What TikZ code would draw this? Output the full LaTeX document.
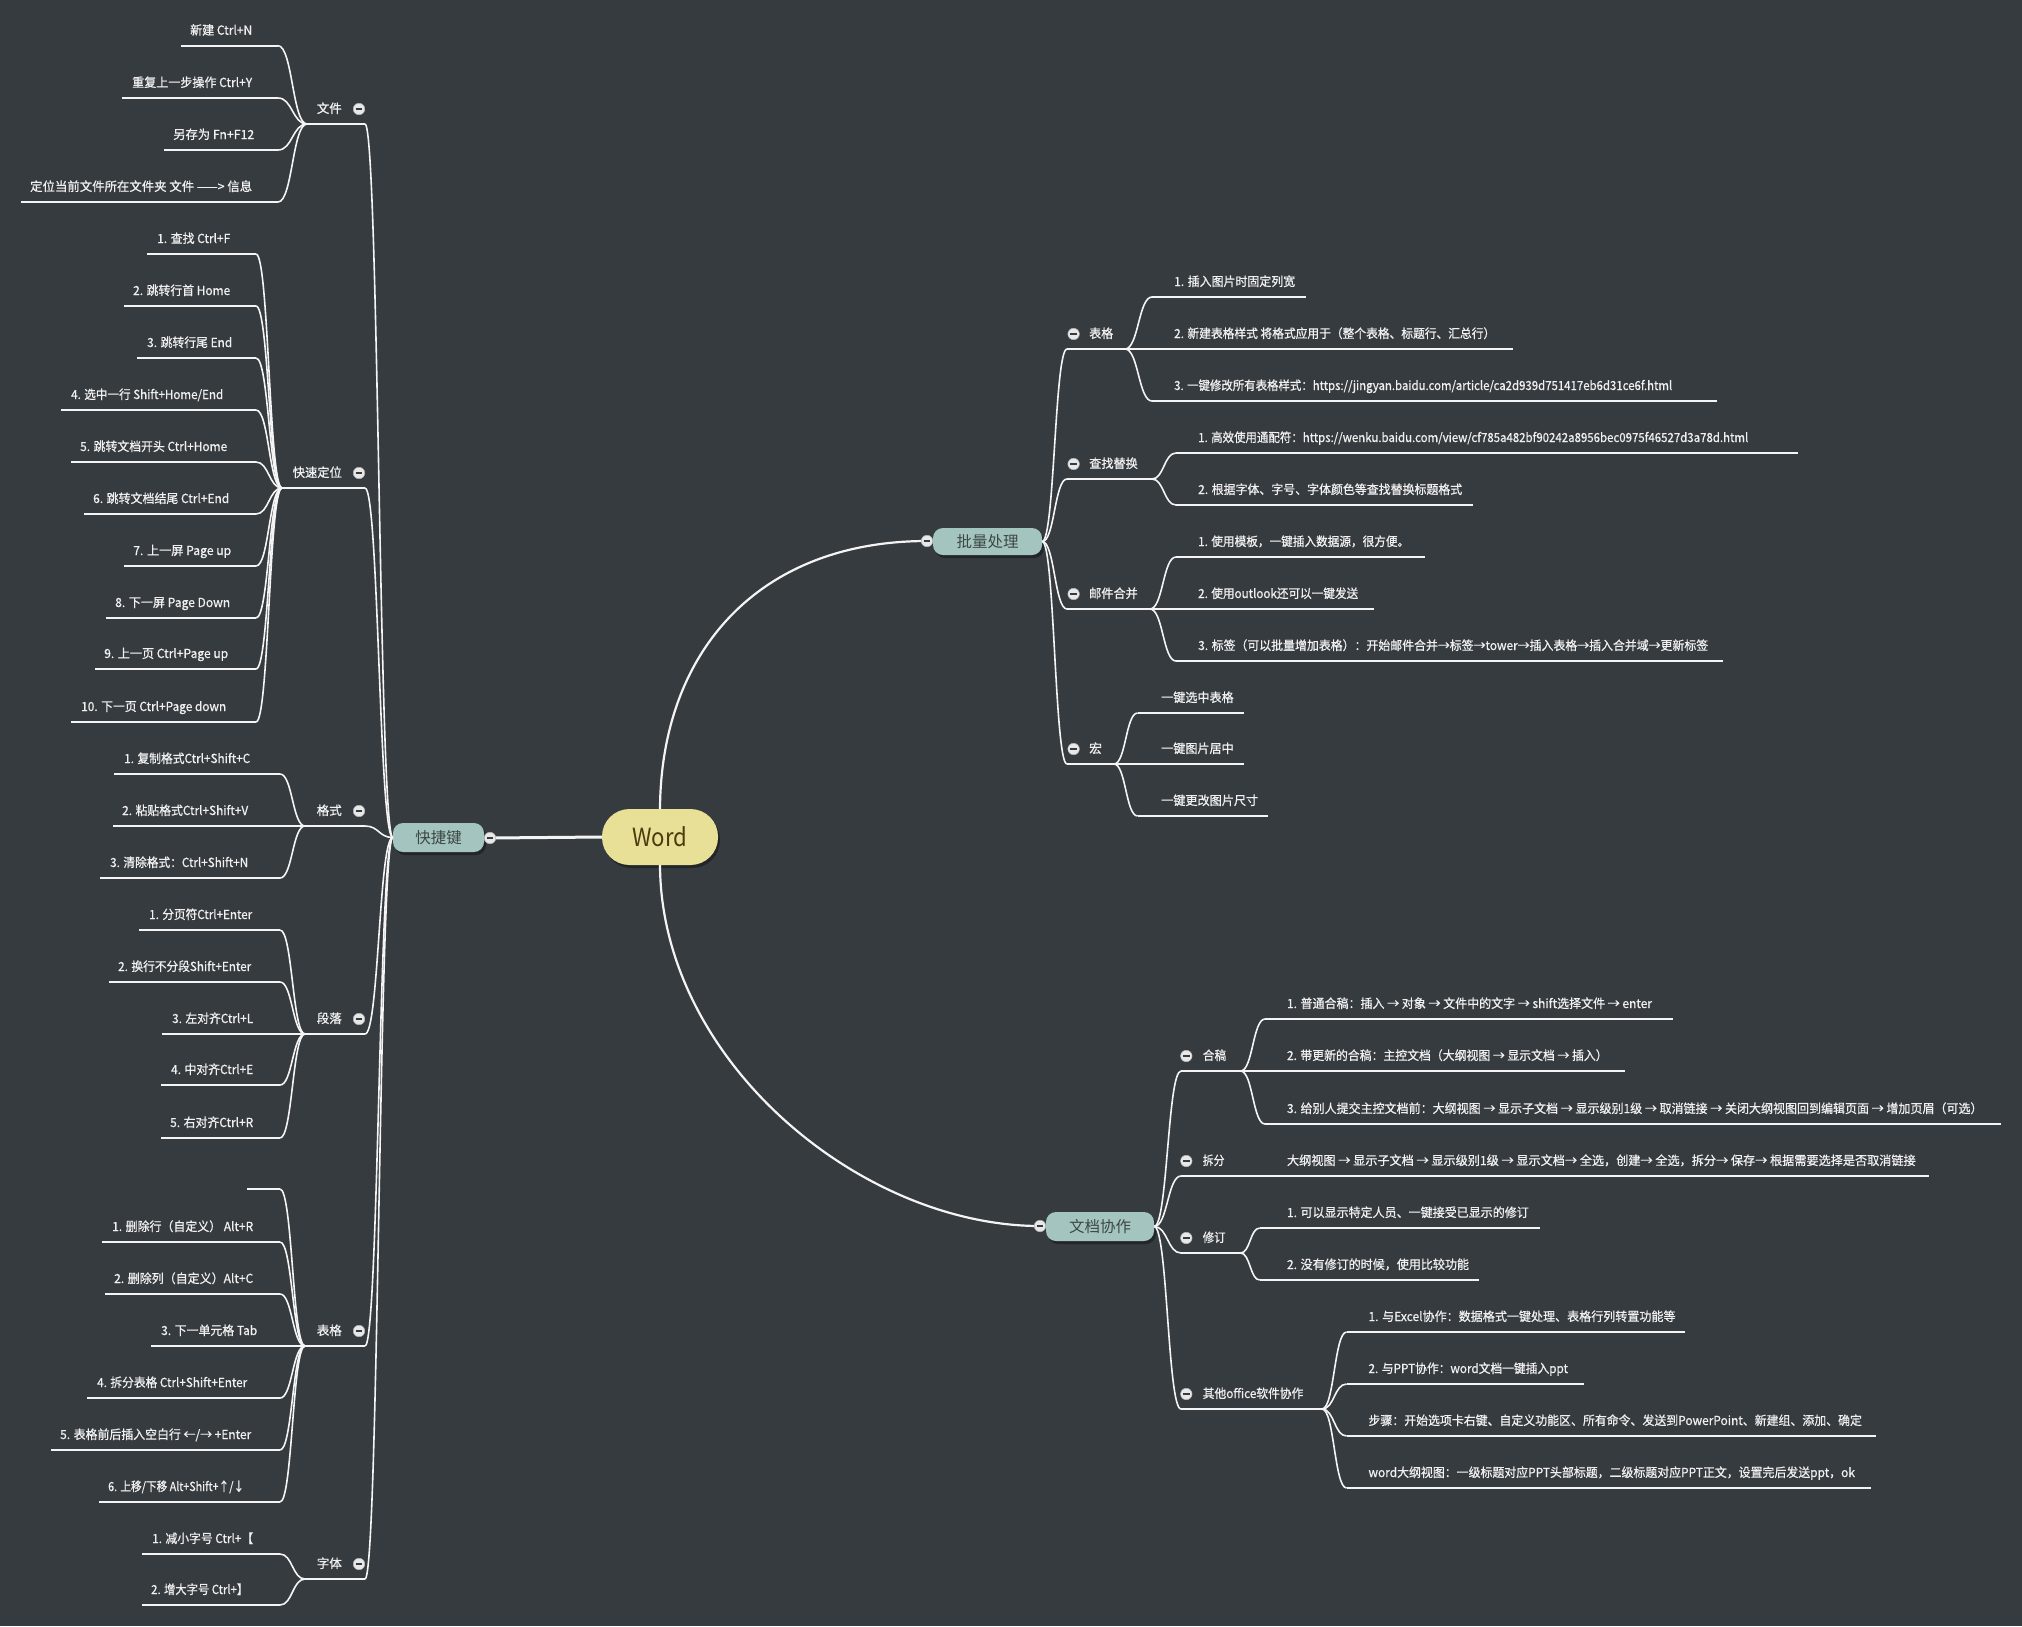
\documentclass[tikz,border=0pt]{standalone}
\usepackage{fontspec}
\setmainfont{Noto Sans CJK SC}
\newfontfamily\mmleaffont{Noto Sans CJK SC}[FakeBold=0.8]
\usepackage{graphicx}
\usetikzlibrary{calc,shadows}
\definecolor{bg}{HTML}{363B3F}
\definecolor{ln}{HTML}{F4F4F4}
\definecolor{tx}{HTML}{F0F0F0}
\definecolor{nodeteal}{HTML}{A4C5BF}
\definecolor{nodetealtx}{HTML}{3D4744}
\definecolor{wordfill}{HTML}{E9E097}
\definecolor{wordtx}{HTML}{4A3C0E}
\definecolor{knob}{HTML}{E8E8E8}
\tikzset{
  ul/.style={draw=ln, line width=1.7pt},
  conn/.style={draw=ln, line width=1.6pt},
  ltext/.style={text=tx, inner sep=0pt, font=\mmleaffont\fontsize{12.5}{14}\selectfont},
  rtext/.style={text=tx, inner sep=0pt, font=\mmleaffont\fontsize{12.5}{14}\selectfont},
  rgtext/.style={text=tx, inner sep=0pt, font=\mmleaffont\fontsize{12.5}{14}\selectfont},
  knobc/.style={circle, fill=knob, draw=knob!70!bg, line width=0.5pt, minimum size=11.5pt, inner sep=0pt,
    path picture={\draw[draw=bg, line width=1.8pt] ([xshift=2.4pt]path picture bounding box.west) -- ([xshift=-2.4pt]path picture bounding box.east);}},
  topic/.style={rounded corners=10pt, fill=nodeteal, text=nodetealtx, inner sep=0pt,
    font=\fontsize{15.5}{18}\selectfont,
    drop shadow={shadow xshift=2pt, shadow yshift=-3pt, fill=black, opacity=0.35}},
  wordn/.style={rounded corners=27.5pt, fill=wordfill, text=wordtx, inner sep=0pt,
    minimum width=116pt, minimum height=56pt, font=\fontsize{25}{28}\selectfont,
    drop shadow={shadow xshift=2pt, shadow yshift=-3pt, fill=black, opacity=0.35}},
}
\newcommand{\mmconn}[2]{\draw[conn] let \p1=(#1), \p2=(#2) in (#1) .. controls ({(\x1+\x2)/2},\y1) and ({(\x1+\x2)/2},\y2) .. (#2);}
% left leaf: name, uly, ulleft, ulright, textleft, width, text, conv
\newcommand{\mmlleaf}[8]{%
  \coordinate (#1a) at (#3,#2);
  \coordinate (#1b) at (#4,#2);
  \draw[ul] (#1a) -- (#1b);
  \mmconn{#1b}{#8}
  \node[ltext, anchor=base west] (#1) at (#5,#2-11) {\resizebox{#6pt}{\height}{#7}};
}
% right leaf: name, uly, ulleft, ulright, textleft, width, text, conv
\newcommand{\mmrleaf}[8]{%
  \coordinate (#1a) at (#3,#2);
  \coordinate (#1b) at (#4,#2);
  \draw[ul] (#1a) -- (#1b);
  \mmconn{#8}{#1a}
  \node[rtext, anchor=base west] (#1) at (#5,#2-11) {\resizebox{#6pt}{\height}{#7}};
}
% left group: name, uly, conv x, width, text
\newcommand{\mmlgroup}[5]{%
  \coordinate (#1c) at (#3,#2);
  \coordinate (#1e) at (365,#2);
  \draw[ul] (#1c) -- (#1e);
  \mmconn{kjj.west}{#1e}
  \node[ltext, anchor=base east] (#1) at (342,#2-11) {\resizebox{#4pt}{\height}{#5}};
  \node[knobc] (#1k) at (359,#2-15) {};
}
% right group: name, uly, ulleft, conv x, knob x, textleft, width, text, parent
\newcommand{\mmrgroup}[9]{%
  \coordinate (#1s) at (#3,#2);
  \coordinate (#1c) at (#4,#2);
  \draw[ul] (#1s) -- (#1c);
  \mmconn{#9.east}{#1s}
  \node[rgtext, anchor=base west] (#1) at (#6,#2-11) {\resizebox{#7pt}{\height}{#8}};
  \node[knobc] (#1k) at (#5,#2-15) {};
}
\begin{document}
\begin{tikzpicture}[x=1pt,y=-1pt]
\fill[bg] (0,0) rectangle (2022,1626);
\useasboundingbox (0,0) rectangle (2022,1626);

% central nodes
\node[wordn] (word) at (660,837) {\resizebox{55pt}{\height}{Word}};
\node[topic, minimum width=91pt, minimum height=29pt] (kjj) at (438.5,837.5) {快捷键};
\node[topic, minimum width=109pt, minimum height=27pt] (plcl) at (987.5,541.5) {批量处理};
\node[topic, minimum width=108pt, minimum height=29pt] (wdxz) at (1100,1226.5) {文档协作};
\coordinate (kjjk) at (490,838);
\coordinate (plclk) at (927,541);
\coordinate (wdxzk) at (1040,1226);
\draw[ln, line width=3pt] (word.west) -- (kjjk);
\draw[ln, line width=2.2pt] (word.north) .. controls (661,650) and (760,541) .. (plclk);
\draw[ln, line width=2.2pt] (word.south) .. controls (661,1060) and (860,1226) .. (wdxzk);
\node[knobc] (kjjknob) at (kjjk) {};
\node[knobc] (plclknob) at (plclk) {};
\node[knobc] (wdxzknob) at (wdxzk) {};

% ---------- left: 快捷键 ----------
\mmlgroup{wj}{124}{307}{25}{文件}
\mmlleaf{wj1}{45.7}{181}{278}{190}{62}{新建 Ctrl+N}{wjc}
\mmlleaf{wj2}{98}{122}{278}{132}{120}{重复上一步操作 Ctrl+Y}{wjc}
\mmlleaf{wj3}{150}{164}{278}{173}{81}{另存为 Fn+F12}{wjc}
\mmlleaf{wj4}{202}{21}{278}{30}{222}{定位当前文件所在文件夹 文件 ——> 信息}{wjc}

\mmlgroup{ks}{488}{282}{49}{快速定位}
\mmlleaf{ks1}{254}{147}{256}{157}{73}{1. 查找 Ctrl+F}{ksc}
\mmlleaf{ks2}{306}{124}{256}{133}{97}{2. 跳转行首 Home}{ksc}
\mmlleaf{ks3}{358}{137}{256}{147}{85}{3. 跳转行尾 End}{ksc}
\mmlleaf{ks4}{410}{61}{256}{71}{152}{4. 选中一行 Shift+Home/End}{ksc}
\mmlleaf{ks5}{462}{71}{256}{80}{147}{5. 跳转文档开头 Ctrl+Home}{ksc}
\mmlleaf{ks6}{514}{84}{256}{93}{136}{6. 跳转文档结尾 Ctrl+End}{ksc}
\mmlleaf{ks7}{566}{124}{256}{133}{98}{7. 上一屏 Page up}{ksc}
\mmlleaf{ks8}{618}{106}{256}{115}{115}{8. 下一屏 Page Down}{ksc}
\mmlleaf{ks9}{669}{95}{256}{104}{124}{9. 上一页 Ctrl+Page up}{ksc}
\mmlleaf{ks10}{722}{71}{256}{81}{145}{10. 下一页 Ctrl+Page down}{ksc}

\mmlgroup{gs}{826}{305}{25}{格式}
\mmlleaf{gs1}{774}{114}{280}{124}{126}{1. 复制格式Ctrl+Shift+C}{gsc}
\mmlleaf{gs2}{826}{113}{280}{122}{126}{2. 粘贴格式Ctrl+Shift+V}{gsc}
\mmlleaf{gs3}{878}{100}{280}{110}{138}{3. 清除格式：Ctrl+Shift+N}{gsc}

\mmlgroup{dl}{1034}{305}{25}{段落}
\mmlleaf{dl1}{930}{139}{280}{149}{103}{1. 分页符Ctrl+Enter}{dlc}
\mmlleaf{dl2}{982}{109}{280}{118}{133}{2. 换行不分段Shift+Enter}{dlc}
\mmlleaf{dl3}{1034}{162}{280}{172}{81}{3. 左对齐Ctrl+L}{dlc}
\mmlleaf{dl4}{1085}{161}{280}{171}{82}{4. 中对齐Ctrl+E}{dlc}
\mmlleaf{dl5}{1138}{161}{280}{170}{83}{5. 右对齐Ctrl+R}{dlc}

\mmlgroup{bg}{1346}{305}{25}{表格}
\coordinate (bg0a) at (247,1189);
\coordinate (bg0b) at (280,1189);
\draw[ul] (bg0a) -- (bg0b);
\mmconn{bg0b}{bgc}
\mmlleaf{bg1}{1242}{102}{280}{112}{141}{1. 删除行（自定义） Alt+R}{bgc}
\mmlleaf{bg2}{1294}{105}{280}{114}{139}{2. 删除列（自定义）Alt+C}{bgc}
\mmlleaf{bg3}{1346}{151}{280}{161}{96}{3. 下一单元格 Tab}{bgc}
\mmlleaf{bg4}{1398}{87}{280}{97}{150}{4. 拆分表格 Ctrl+Shift+Enter}{bgc}
\mmlleaf{bg5}{1450}{51}{280}{60}{191}{5. 表格前后插入空白行 ←/→ +Enter}{bgc}
\mmlleaf{bg6}{1502}{99}{280}{108}{136}{6. 上移/下移 Alt+Shift+↑/↓}{bgc}

\mmlgroup{zt}{1579}{305}{25}{字体}
\mmlleaf{zt1}{1554}{142}{280}{152}{101}{1. 减小字号 Ctrl+【}{ztc}
\mmlleaf{zt2}{1605}{142}{280}{151}{97}{2. 增大字号 Ctrl+】}{ztc}

% ---------- right: 批量处理 ----------
\mmrgroup{rb}{349}{1067}{1125}{1073.6}{1089}{24}{表格}{plcl}
\mmrleaf{rb1}{297}{1152}{1306}{1174}{121}{1. 插入图片时固定列宽}{rbc}
\mmrleaf{rb2}{349}{1125}{1513}{1174}{321}{2. 新建表格样式 将格式应用于（整个表格、标题行、汇总行）}{rbc}
\mmrleaf{rb3}{401}{1152}{1717}{1174}{498}{3. 一键修改所有表格样式：https://jingyan.baidu.com/article/ca2d939d751417eb6d31ce6f.html}{rbc}

\mmrgroup{cz}{479}{1067}{1152}{1073.6}{1089}{48.6}{查找替换}{plcl}
\mmrleaf{cz1}{453}{1176}{1798}{1198}{550}{1. 高效使用通配符：https://wenku.baidu.com/view/cf785a482bf90242a8956bec0975f46527d3a78d.html}{czc}
\mmrleaf{cz2}{505}{1176}{1473}{1198}{264}{2. 根据字体、字号、字体颜色等查找替换标题格式}{czc}

\mmrgroup{yj}{609}{1067}{1150}{1073.6}{1089}{48.6}{邮件合并}{plcl}
\mmrleaf{yj1}{557}{1176}{1424.5}{1198}{211}{1. 使用模板，一键插入数据源，很方便。}{yjc}
\mmrleaf{yj2}{609}{1150}{1374}{1198}{160}{2. 使用outlook还可以一键发送}{yjc}
\mmrleaf{yj3}{661}{1176}{1722.6}{1198}{510}{3. 标签（可以批量增加表格）：开始邮件合并→标签→tower→插入表格→插入合并域→更新标签}{yjc}

\mmrgroup{hg}{764}{1067}{1114}{1073.6}{1089}{12.7}{宏}{plcl}
\mmrleaf{hg1}{713}{1137.6}{1244}{1161}{72.5}{一键选中表格}{hgc}
\mmrleaf{hg2}{764}{1114}{1244}{1161}{72.5}{一键图片居中}{hgc}
\mmrleaf{hg3}{816}{1137.6}{1268}{1161}{97}{一键更改图片尺寸}{hgc}

% ---------- right: 文档协作 ----------
\mmrgroup{hgao}{1071}{1181}{1240.6}{1186.3}{1202.6}{23.4}{合稿}{wdxz}
\mmrleaf{hgao1}{1019}{1265}{1672.6}{1286.8}{365}{1. 普通合稿：插入 → 对象 → 文件中的文字 → shift选择文件 → enter}{hgaoc}
\mmrleaf{hgao2}{1071}{1240.6}{1625.3}{1286.8}{320.6}{2. 带更新的合稿：主控文档（大纲视图 → 显示文档 → 插入）}{hgaoc}
\mmrleaf{hgao3}{1124}{1265}{2001.3}{1286.8}{695.5}{3. 给别人提交主控文档前：大纲视图 → 显示子文档 → 显示级别1级 → 取消链接 → 关闭大纲视图回到编辑页面 → 增加页眉（可选）}{hgaoc}

\mmrgroup{cf}{1176}{1181}{1240.6}{1186.3}{1202.6}{21.7}{拆分}{wdxz}
\mmrleaf{cf1}{1176}{1240.6}{1929}{1286.8}{628.7}{大纲视图 → 显示子文档 → 显示级别1级 → 显示文档→ 全选，创建→ 全选，拆分→ 保存→ 根据需要选择是否取消链接}{cfc}

\mmrgroup{xd}{1253}{1181}{1240.6}{1186.3}{1202.6}{22.8}{修订}{wdxz}
\mmrleaf{xd1}{1228}{1259.7}{1539.5}{1286.8}{241.8}{1. 可以显示特定人员、一键接受已显示的修订}{xdc}
\mmrleaf{xd2}{1280}{1259.7}{1478.6}{1286.8}{182}{2. 没有修订的时候，使用比较功能}{xdc}

\mmrgroup{qt}{1409}{1181}{1322}{1186.3}{1202.6}{100.5}{其他office软件协作}{wdxz}
\mmrleaf{qt1}{1332}{1346.6}{1685}{1368.3}{307}{1. 与Excel协作：数据格式一键处理、表格行列转置功能等}{qtc}
\mmrleaf{qt2}{1384}{1346.6}{1584}{1368.3}{199.5}{2. 与PPT协作：word文档一键插入ppt}{qtc}
\mmrleaf{qt3}{1436}{1346.6}{1876.4}{1368.3}{493.4}{步骤：开始选项卡右键、自定义功能区、所有命令、发送到PowerPoint、新建组、添加、确定}{qtc}
\mmrleaf{qt4}{1488}{1346.6}{1871}{1368.3}{486.4}{word大纲视图：一级标题对应PPT头部标题，二级标题对应PPT正文，设置完后发送ppt，ok}{qtc}
\end{tikzpicture}
\end{document}
